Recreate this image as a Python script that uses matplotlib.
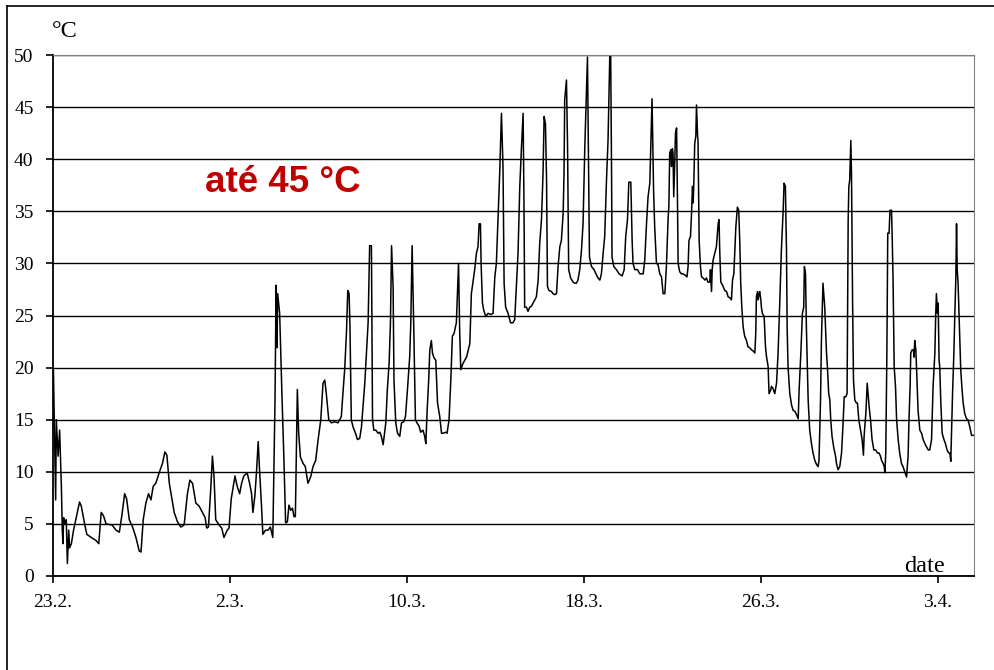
import matplotlib
matplotlib.use("Agg")
import matplotlib.pyplot as plt
from matplotlib.lines import Line2D

# --- data (days after 23.2., temperature in °C) ---
days = [
    0.02, 0.12, 0.15, 0.23, 0.30, 0.33, 0.38, 0.42, 0.45, 0.48, 0.54, 0.60, 0.65, 0.71, 0.75, 0.83,
    0.93, 1.05, 1.20, 1.28, 1.43, 1.53, 1.73, 1.95, 2.07, 2.18, 2.28, 2.40, 2.67, 2.85, 3.00, 3.12,
    3.24, 3.33, 3.45, 3.60, 3.75, 3.90, 3.98, 4.08, 4.20, 4.32, 4.43, 4.53, 4.65, 4.80, 4.95, 5.06,
    5.15, 5.26, 5.38, 5.48, 5.63, 5.78, 5.93, 6.08, 6.19, 6.31, 6.46, 6.61, 6.76, 6.88, 6.95, 7.03,
    7.13, 7.21, 7.28, 7.36, 7.51, 7.63, 7.73, 7.88, 7.96, 8.06, 8.15, 8.23, 8.33, 8.44, 8.53, 8.63,
    8.78, 8.89, 8.98, 9.04, 9.13, 9.20, 9.28, 9.34, 9.43, 9.49, 9.61, 9.73, 9.83, 9.94,
    10.04, 10.09, 10.13, 10.16, 10.25, 10.36, 10.44, 10.52, 10.60, 10.67, 10.75, 10.83, 10.90, 10.96,
    11.05, 11.11, 11.19, 11.31, 11.41, 11.53, 11.65, 11.76, 11.88, 11.99, 12.11, 12.21, 12.29, 12.36,
    12.47, 12.59, 12.74, 12.89, 13.04, 13.11, 13.19, 13.27, 13.33, 13.39, 13.43, 13.49, 13.57, 13.68,
    13.77, 13.87, 13.95,
    14.10, 14.25, 14.32, 14.40, 14.45, 14.51, 14.60, 14.70, 14.78, 14.85, 14.93, 14.97, 15.05, 15.12,
    15.20, 15.26, 15.31, 15.38, 15.42, 15.50, 15.58, 15.68, 15.76, 15.86, 15.94, 16.03, 16.13, 16.18,
    16.24, 16.31, 16.39, 16.46, 16.55, 16.63, 16.73, 16.81, 16.86, 16.92, 16.99, 17.04, 17.11, 17.16,
    17.22, 17.31, 17.39, 17.49, 17.57, 17.64, 17.76, 17.82, 17.91, 17.99, 18.06, 18.14, 18.24, 18.34,
    18.39, 18.44, 18.54, 18.70, 18.85, 18.92, 19.07, 19.15, 19.22, 19.27, 19.33, 19.36, 19.42, 19.48,
    19.57, 19.67, 19.80, 19.90, 19.98, 20.05, 20.13, 20.20, 20.28, 20.35, 20.40, 20.47, 20.58, 20.69,
    20.80,
    20.88, 20.96, 21.03, 21.11, 21.18, 21.26, 21.30, 21.33, 21.41, 21.48, 21.56, 21.64, 21.71, 21.79,
    21.86, 21.94, 22.01, 22.09, 22.16, 22.21, 22.27, 22.32, 22.36, 22.43, 22.54, 22.61, 22.69, 22.77,
    22.84, 22.92, 22.99, 23.07, 23.11, 23.14, 23.22, 23.27, 23.32, 23.41, 23.52, 23.60, 23.67, 23.74,
    23.82, 23.90, 23.97, 24.05, 24.12, 24.17, 24.20, 24.26, 24.35, 24.47, 24.55, 24.65, 24.73, 24.80,
    24.88, 24.95, 25.03, 25.10, 25.18, 25.22, 25.26, 25.28, 25.36, 25.48, 25.60, 25.74, 25.83, 25.90,
    25.98, 26.04, 26.13, 26.19, 26.23, 26.31, 26.43, 26.54, 26.69, 26.76, 26.84, 26.91, 26.99, 27.09,
    27.16,
    27.21, 27.29, 27.36, 27.44, 27.52, 27.59, 27.67, 27.74, 27.82, 27.85, 27.89, 27.94, 27.97, 28.01,
    28.04, 28.07, 28.12, 28.15, 28.20, 28.24,
    28.27, 28.34, 28.42, 28.49, 28.57, 28.67, 28.72, 28.76, 28.83, 28.87, 28.92, 28.95, 28.98, 29.02,
    29.07, 29.10, 29.15, 29.17, 29.22, 29.28, 29.33, 29.40, 29.48, 29.55, 29.62, 29.70, 29.73, 29.78,
    29.81, 29.85, 29.93, 30.00, 30.08, 30.12, 30.15, 30.20, 30.28, 30.38, 30.46, 30.53, 30.61, 30.68,
    30.73, 30.79, 30.83, 30.88, 30.95, 31.01, 31.06, 31.10, 31.15, 31.21, 31.28, 31.36, 31.43, 31.51,
    31.59, 31.66, 31.74, 31.78, 31.81, 31.86, 31.89, 31.93, 31.96, 32.01, 32.04, 32.08, 32.16, 32.22,
    32.27, 32.34, 32.38, 32.45, 32.49, 32.56, 32.64, 32.72, 32.79, 32.87, 32.94, 33.02, 33.06, 33.12,
    33.17, 33.20, 33.24, 33.32, 33.40, 33.47, 33.55, 33.62, 33.70, 33.74, 33.82, 33.89, 33.95, 33.98,
    34.03, 34.07, 34.15, 34.22, 34.30, 34.37, 34.45, 34.53, 34.60, 34.64, 34.71, 34.75, 34.82,
    34.90, 34.98, 35.02, 35.08, 35.13, 35.17, 35.23, 35.31, 35.39, 35.43, 35.50, 35.58, 35.66, 35.73,
    35.78, 35.85, 35.91, 35.96, 35.99, 36.03, 36.08, 36.11, 36.16, 36.20, 36.26, 36.33, 36.38, 36.44,
    36.52, 36.59, 36.65, 36.68, 36.71, 36.76, 36.82, 36.86, 36.91, 36.97, 37.04, 37.12, 37.20, 37.29,
    37.36, 37.42, 37.47, 37.54, 37.59, 37.62, 37.66, 37.71, 37.75, 37.81, 37.85, 37.92, 37.95, 37.99,
    38.04, 38.10, 38.15, 38.22, 38.29, 38.37, 38.44, 38.52, 38.60, 38.67, 38.71, 38.76, 38.79, 38.85,
    38.91, 38.94, 38.97, 39.02, 39.06, 39.12, 39.20, 39.28, 39.35, 39.43, 39.50, 39.58, 39.65, 39.73,
    39.76, 39.80, 39.88, 39.92, 39.95, 40.00, 40.03, 40.07, 40.10, 40.15, 40.21, 40.29, 40.36, 40.43,
    40.51, 40.56, 40.60, 40.63, 40.68, 40.74, 40.78, 40.83, 40.86, 40.89, 40.93, 41.01, 41.05, 41.11,
    41.16, 41.23, 41.31, 41.38, 41.46, 41.54, 41.61,
]

temp = [
    19.7, 7.3, 15.0, 11.5, 14.0, 12.0, 8.5, 4.4, 3.1, 5.6, 5.0, 5.4, 1.2, 4.4, 2.7, 3.1,
    4.4, 5.6, 7.1, 6.7, 5.0, 4.0, 3.7, 3.4, 3.1, 6.1, 5.8, 5.0, 4.9, 4.4, 4.2, 5.9,
    7.9, 7.4, 5.4, 4.7, 3.7, 2.4, 2.3, 5.4, 7.0, 7.9, 7.3, 8.6, 8.9, 9.9, 10.8, 11.9,
    11.6, 8.9, 7.4, 6.1, 5.2, 4.7, 4.9, 7.9, 9.2, 8.9, 7.0, 6.7, 6.1, 5.6, 4.6, 4.7,
    8.2, 11.5, 9.6, 5.4, 4.9, 4.6, 3.7, 4.4, 4.6, 7.4, 8.6, 9.6, 8.6, 7.9, 8.9, 9.6,
    9.9, 8.9, 7.9, 6.1, 7.7, 9.9, 12.9, 10.2, 6.7, 4.0, 4.4, 4.4, 4.7, 3.7,
    16.9, 27.9, 21.9, 27.1, 25.2, 16.9, 11.4, 5.1, 5.2, 6.8, 6.3, 6.5, 5.7, 5.7,
    17.9, 13.7, 11.4, 10.8, 10.5, 8.9, 9.5, 10.5, 11.1, 13.1, 15.0, 18.5, 18.8, 17.5,
    15.0, 14.7, 14.8, 14.7, 15.3, 17.5, 19.8, 23.3, 27.4, 27.1, 23.9, 15.0, 14.3, 13.7,
    13.1, 13.2, 14.3,
    18.5, 24.3, 31.7, 31.7, 15.0, 14.0, 14.0, 13.7, 13.8, 13.4, 12.6, 13.3, 14.7, 17.9,
    20.4, 24.3, 31.7, 27.8, 18.8, 14.7, 13.7, 13.4, 14.7, 14.8, 15.3, 17.9, 21.0, 24.3,
    31.7, 24.3, 15.0, 14.7, 14.4, 13.8, 14.0, 13.4, 12.7, 15.9, 18.8, 21.7, 22.6, 21.4,
    21.0, 20.7, 16.6, 15.3, 13.7, 13.7, 13.8, 13.7, 15.0, 18.8, 23.0, 23.3, 24.3, 30.0,
    23.6, 19.8, 20.4, 21.0, 22.3, 27.1, 29.4, 31.0, 31.6, 33.8, 33.8, 30.0, 26.2, 25.5,
    24.9, 25.2, 25.1, 25.2, 28.7, 30.0, 34.5, 38.6, 44.4, 39.3, 28.1, 25.8, 25.2, 24.3,
    24.3,
    24.6, 28.1, 31.0, 37.4, 40.9, 44.4, 35.4, 25.8, 25.8, 25.4, 25.8, 25.9, 26.2, 26.5,
    26.8, 28.4, 31.9, 34.2, 38.6, 44.1, 43.4, 38.0, 27.8, 27.4, 27.3, 27.1, 27.0, 27.1,
    29.7, 31.6, 32.2, 34.8, 38.6, 45.7, 47.6, 41.2, 29.4, 28.6, 28.2, 28.1, 28.1, 28.4,
    29.4, 31.3, 33.8, 41.2, 46.3, 49.8, 43.1, 30.6, 29.7, 29.4, 29.0, 28.6, 28.4, 29.0,
    31.0, 32.6, 38.0, 41.8, 50.0, 50.0, 38.6, 30.6, 29.7, 29.4, 29.0, 28.8, 29.4, 32.6,
    34.2, 37.8, 37.8, 32.2, 30.0, 29.4, 29.4, 29.0, 29.0, 30.3, 33.8, 36.4, 37.7, 45.8,
    37.0,
    33.5, 30.0, 29.9, 29.0, 28.7, 27.1, 27.1, 29.7, 34.5, 35.4, 40.6, 40.9, 39.3, 41.0,
    40.6, 36.4, 39.9, 42.5, 43.0, 36.1,
    30.0, 29.2, 29.0, 29.0, 28.9, 28.7, 29.7, 32.2, 32.6, 34.5, 37.4, 35.8, 37.7, 41.5,
    42.2, 45.2, 42.2, 41.8, 32.2, 29.7, 28.7, 28.6, 28.4, 28.6, 28.2, 28.2, 29.4, 27.3,
    29.4, 30.3, 31.0, 31.6, 33.8, 34.2, 31.3, 28.2, 27.9, 27.4, 27.3, 26.8, 26.7, 26.5,
    28.4, 29.0, 31.0, 33.5, 35.4, 35.1, 31.9, 28.1, 25.8, 23.9, 23.0, 22.6, 22.0, 21.9,
    21.7, 21.6, 21.4, 23.3, 26.8, 27.3, 26.5, 27.1, 27.3, 26.5, 25.7, 25.2, 24.9, 22.0,
    21.0, 20.1, 17.5, 17.8, 18.2, 18.0, 17.5, 18.5, 21.4, 26.5, 31.3, 35.1, 37.7, 37.4,
    31.3, 23.9, 20.1, 17.5, 16.4, 15.9, 15.8, 15.5, 15.1, 17.8, 21.4, 25.2, 25.8, 29.7,
    29.0, 23.9, 16.9, 14.0, 12.7, 11.8, 11.1, 10.7, 10.5, 11.1, 16.9, 22.6, 28.1,
    25.8, 21.4, 20.1, 17.5, 16.9, 15.0, 13.4, 12.3, 11.5, 10.8, 10.2, 10.5, 11.8, 14.7,
    17.2, 17.2, 17.5, 34.2, 37.4, 38.0, 41.8, 38.6, 26.2, 18.8, 16.9, 16.6, 16.6, 15.0,
    14.0, 13.1, 11.6, 13.4, 14.3, 15.6, 18.5, 17.5, 16.2, 15.0, 13.1, 12.1, 12.1, 11.8,
    11.8, 11.5, 11.1, 10.8, 10.5, 9.9, 11.8, 21.4, 32.9, 32.9, 35.1, 35.1, 32.6, 28.4,
    20.1, 18.2, 15.0, 13.1, 11.8, 10.8, 10.5, 10.0, 9.5, 11.5, 15.0, 18.2, 21.4, 21.7,
    21.7, 21.0, 22.6, 21.7, 19.5, 15.9, 14.0, 13.7, 13.1, 12.7, 12.4, 12.1, 12.1, 13.1,
    15.3, 18.2, 21.4, 25.2, 27.1, 25.2, 26.2, 20.7, 20.1, 16.6, 13.7, 13.1, 12.7, 12.1,
    11.8, 11.8, 11.0, 13.4, 17.5, 21.4, 24.9, 28.7, 33.8, 29.4, 28.1, 22.6, 19.8, 17.9,
    16.6, 15.6, 15.1, 15.0, 14.3, 13.5, 13.5,
]

tick_days = [0, 8, 16, 24, 32, 40]
tick_labels = ['23.2.', '2.3.', '10.3.', '18.3.', '26.3.', '3.4.']
y_ticks = list(range(0, 51, 5))

serif = 'Liberation Serif'

fig = plt.figure(figsize=(9.95, 6.7), dpi=100)
ax = fig.add_axes([53 / 995, 94 / 670, 921 / 995, 521 / 670])

ax.plot(days, temp, color='black', lw=1.1)

ax.set_xlim(0, 41.65)
ax.set_ylim(0, 50)
ax.set_yticks(y_ticks)
ax.set_xticks(tick_days)
ax.set_xticklabels(tick_labels)
ax.yaxis.grid(True, color='black', lw=1.0)
ax.set_axisbelow(True)

for lab in ax.get_xticklabels() + ax.get_yticklabels():
    lab.set_fontfamily(serif)
    lab.set_fontsize(14)
ax.tick_params(axis='both', direction='out', length=5, width=1.2, color='black')
ax.tick_params(axis='x', pad=8)
ax.tick_params(axis='y', pad=9)

ax.spines['left'].set_linewidth(1.3)
ax.spines['bottom'].set_linewidth(1.3)
ax.spines['top'].set_color('#808080')
ax.spines['right'].set_color('#808080')

ax.text((945 - 53) / 921, 4 / 521, 'date', transform=ax.transAxes,
        ha='right', va='baseline', family=serif, fontsize=17.5)
fig.text(52 / 995, 1 - 37 / 670, '°C', ha='left', va='baseline',
         family=serif, fontsize=17.5)
ax.text((205 - 53) / 921, (576 - 191.7) / 521, 'até 45 °C', transform=ax.transAxes,
        ha='left', va='baseline', family='Liberation Sans', fontweight='bold',
        fontsize=26.5, color='#c00000')

# frame around the whole picture (left and top edges visible)
fig.add_artist(Line2D([7 / 995, 7 / 995], [0, 1 - 6 / 670], transform=fig.transFigure,
                      color='black', lw=1.2))
fig.add_artist(Line2D([7 / 995, 1], [1 - 6 / 670, 1 - 6 / 670], transform=fig.transFigure,
                      color='black', lw=1.2))

print(len(days), len(temp))
fig.savefig('out.png', dpi=100)
